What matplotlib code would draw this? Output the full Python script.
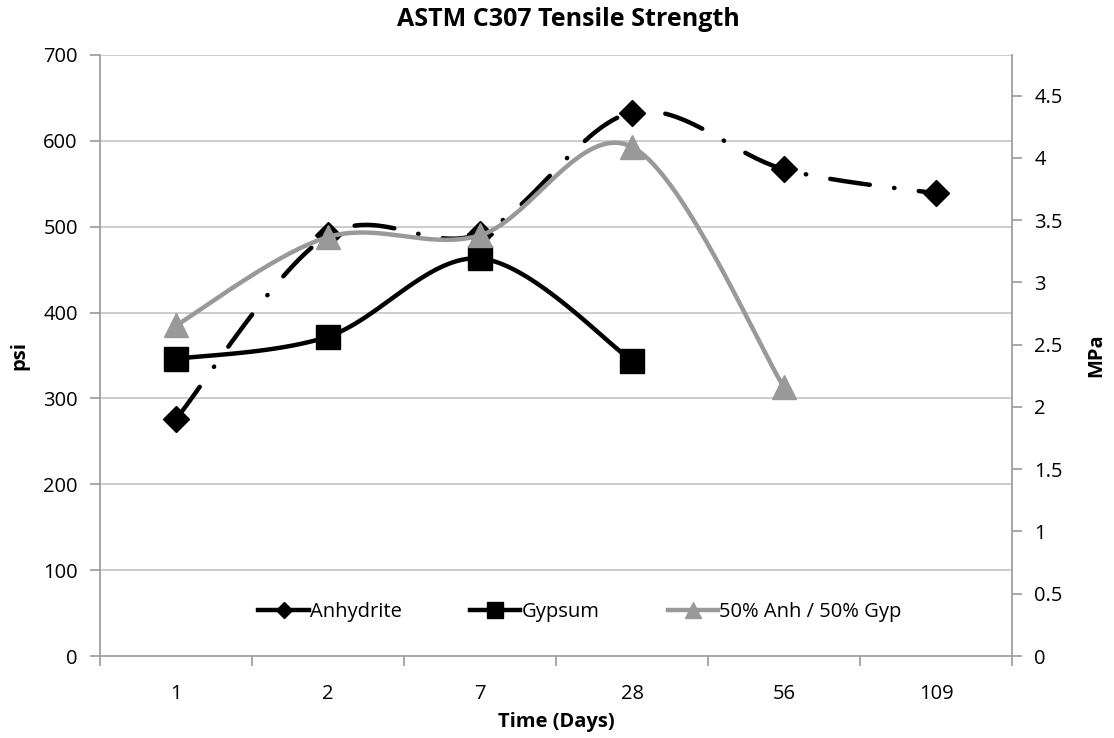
import numpy as np
import matplotlib
matplotlib.use("Agg")
import matplotlib.pyplot as plt
from matplotlib.lines import Line2D

plt.rcParams['font.family'] = ['Open Sans', 'DejaVu Sans']

days = ["1", "2", "7", "28", "56", "109"]
anhydrite = [276, 490, 492, 633, 567, 539]
gypsum = [346, 372, 463, 344]
mix = [385, 488, 490, 593, 313]

PSI_PER_MPA = 145.038

fig = plt.figure(figsize=(11.14, 7.38), dpi=100)
ax = fig.add_axes([100/1114, 1-656/738, (1012-100)/1114, (656-55)/738])
ax.set_xlim(-0.5, len(days)-0.5)
ax.set_ylim(0, 700)


def smooth(xs, ys, n=40):
    # Catmull-Rom style smoothing computed in display space
    pts = ax.transData.transform(np.column_stack([xs, ys]))
    out = [pts[0]]
    m = len(pts)
    for i in range(m-1):
        p0 = pts[i-1] if i > 0 else pts[i]
        p1 = pts[i]
        p2 = pts[i+1]
        p3 = pts[i+2] if i+2 < m else pts[i+1]
        c1 = p1 + (p2 - p0) / 6.0
        c2 = p2 - (p3 - p1) / 6.0
        t = np.linspace(0, 1, n)[1:, None]
        seg = ((1-t)**3)*p1 + 3*((1-t)**2)*t*c1 + 3*(1-t)*t**2*c2 + t**3*p2
        out.extend(seg)
    out = np.array(out)
    d = ax.transData.inverted().transform(out)
    return d[:, 0], d[:, 1]


gray = '#999999'
lw = 3.2
fs = 14.5

# grid
for v in range(100, 701, 100):
    ax.axhline(v, color='#c8c8c8', lw=1.3, zorder=0)

x_a = np.arange(len(anhydrite))
sx, sy = smooth(x_a, anhydrite)
ln, = ax.plot(sx, sy, color='black', lw=lw, zorder=3, dash_capstyle='round')
ln.set_dashes([9, 5.5, 0.1, 5.5])
ax.plot(x_a, anhydrite, ls='none', marker='D', ms=13, color='black', zorder=4)

x_g = np.arange(len(gypsum))
sx, sy = smooth(x_g, gypsum)
ax.plot(sx, sy, color='black', lw=lw, zorder=3)
ax.plot(x_g, gypsum, ls='none', marker='s', ms=17, color='black', zorder=4)

x_m = np.arange(len(mix))
sx, sy = smooth(x_m, mix)
ax.plot(sx, sy, color=gray, lw=lw, zorder=5)
ax.plot(x_m, mix, ls='none', marker='^', ms=17, color=gray, zorder=6)

# axes styling
for s in ['top', 'right']:
    ax.spines[s].set_visible(False)
for s in ['left', 'bottom']:
    ax.spines[s].set_color('#a0a0a0')
    ax.spines[s].set_linewidth(1.3)
ax.set_yticks(range(0, 701, 100))
ax.tick_params(axis='y', direction='out', length=7, color='#a0a0a0', width=1.3,
               labelsize=fs, pad=9)
ax.set_xticks(np.arange(len(days)))
ax.set_xticklabels(days)
ax.set_xticks(np.arange(-0.5, len(days)), minor=True)
ax.tick_params(axis='x', which='major', length=0, labelsize=fs, pad=20)
ax.tick_params(axis='x', which='minor', direction='out', length=7, color='#a0a0a0', width=1.3)

ax2 = ax.twinx()
ax2.set_ylim(0, 700/PSI_PER_MPA)
ax2.set_yticks(np.arange(0, 4.51, 0.5))
ax2.yaxis.set_major_formatter(matplotlib.ticker.FormatStrFormatter('%g'))
for s in ['top', 'left', 'bottom']:
    ax2.spines[s].set_visible(False)
ax2.spines['right'].set_color('#a0a0a0')
ax2.spines['right'].set_linewidth(1.3)
ax2.tick_params(axis='y', direction='out', length=7, color='#a0a0a0', width=1.3,
                labelsize=fs, pad=9)

ax.set_ylabel('psi', fontsize=fs, fontweight='bold', labelpad=10)
ax2.set_ylabel('MPa', fontsize=fs, fontweight='bold', labelpad=17)
ax.set_xlabel('Time (Days)', fontsize=fs, fontweight='bold', labelpad=6)
fig.text(568/1114, 1-20/738, 'ASTM C307 Tensile Strength', ha='center', va='center',
         fontsize=18, fontweight='bold')

handles = [
    Line2D([], [], color='black', lw=lw, marker='D', ms=8),
    Line2D([], [], color='black', lw=lw, marker='s', ms=11),
    Line2D([], [], color=gray, lw=lw, marker='^', ms=11),
]
ax.legend(handles, ['Anhydrite', 'Gypsum', '50% Anh / 50% Gyp'], ncol=3,
          loc='center', bbox_to_anchor=((580-100)/912, 1-(612-55)/601), frameon=False,
          fontsize=fs, handlelength=2.5, handletextpad=0.05, columnspacing=3.4)

fig.savefig('out.png', dpi=100)
